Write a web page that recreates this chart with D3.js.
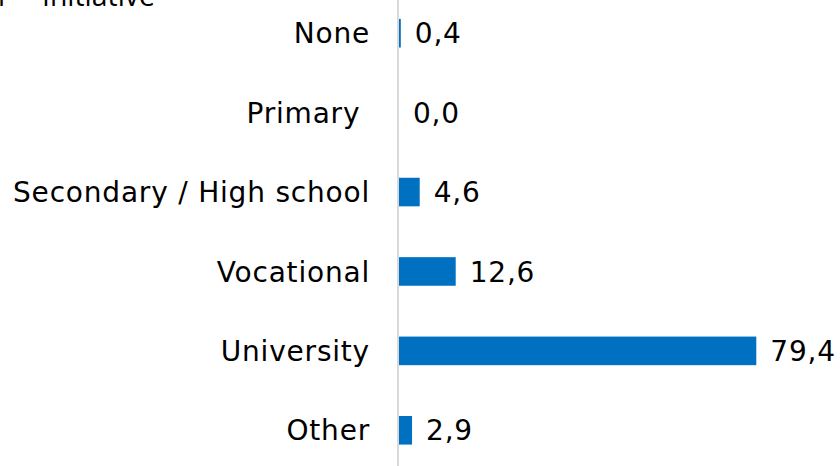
<!DOCTYPE html>
<html><head><meta charset="utf-8">
<script src="https://cdn.jsdelivr.net/npm/d3@7"></script>
<style>body{margin:0;background:#fff}</style>
</head><body><svg id="c" width="840" height="466"></svg>
<script>
const categories = ["None", "Primary ", "Secondary / High school", "Vocational", "University", "Other"];
const values = [0.4, 0.0, 4.6, 12.6, 79.4, 2.9];
const labels = ["0,4", "0,0", "4,6", "12,6", "79,4", "2,9"];

const svg = d3.select("#c");
const font = "'DejaVu Sans', Verdana, sans-serif";
const x = d3.scaleLinear().domain([0, 80]).range([399, 759]);
const y = d3.scaleBand().domain(categories).range([-6.5, 470]).paddingInner(0.64).paddingOuter(0.32);

// cut-off title remnant at the top
svg.append("text").attr("x", -2).attr("y", 6).attr("font-family", "'Open Sans', sans-serif")
  .attr("font-size", 28).attr("fill", "#000").text("r·");
const t = svg.append("text").attr("x", 42).attr("y", 6).attr("font-family", "'Open Sans', sans-serif")
  .attr("font-size", 28).attr("fill", "#000").text("Initiative");
const w = t.node().getComputedTextLength();
t.attr("font-size", 28 * 113 / w);

svg.selectAll("rect.bar").data(values).enter().append("rect")
  .attr("x", x(0)).attr("y", (d, i) => y(categories[i]))
  .attr("width", d => x(d) - x(0)).attr("height", y.bandwidth())
  .attr("fill", "#0070c0");

svg.append("line").attr("x1", 398).attr("x2", 398).attr("y1", 0).attr("y2", 466)
  .attr("stroke", "#d9d9d9").attr("stroke-width", 2);

svg.selectAll("text.cat").data(categories).enter().append("text")
  .attr("x", 370).attr("y", d => y(d) + y.bandwidth() / 2).attr("dy", "0.36em")
  .attr("text-anchor", "end").attr("font-family", font).attr("font-size", 28)
  .attr("letter-spacing", 0.8)
  .style("white-space", "pre").attr("fill", "#000").text(d => d);

svg.selectAll("text.val").data(values).enter().append("text")
  .attr("x", d => x(d) + 14).attr("y", (d, i) => y(categories[i]) + y.bandwidth() / 2).attr("dy", "0.36em")
  .attr("font-family", font).attr("font-size", 28).attr("letter-spacing", 0.8)
  .attr("fill", "#000").text((d, i) => labels[i]);
</script></body></html>
